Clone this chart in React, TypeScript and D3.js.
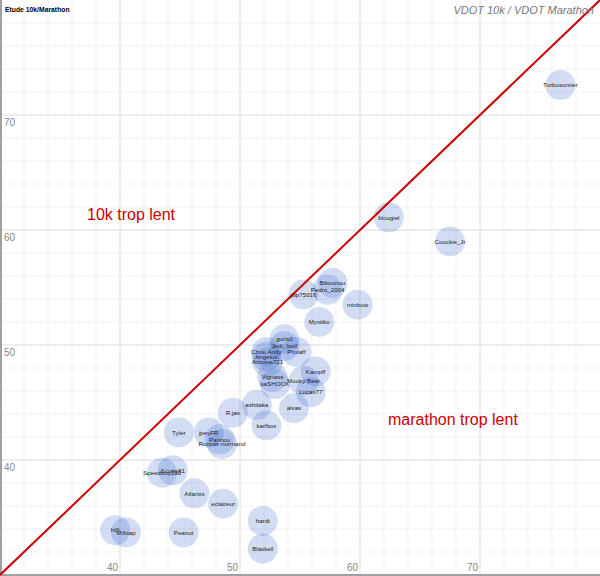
import React from 'react';
import * as d3 from 'd3';

const W = 600;
const H = 576;

// runners: VDOT 10k (x) vs VDOT marathon (y)
const names = [
  'Turbosunner', 'blougiel', 'Coockie_Jr', 'Bikounou', 'Pedro_2004', 'ptp75016',
  'minbow', 'Mystiko', 'gui/s0', 'Jedi_Isoil', 'Protaff', 'Chou Andy',
  'Angelus', 'Antoine721', 'Vignass', 'saSHOCK', 'Kampff', 'Mooky Bear',
  'Lucas77', 'ashitaka', 'alvas', 'R.jas', 'karlbox', 'Tyler',
  'jpeyFR', 'Pannou', 'Runner-normand', 'Speedboy230', 'Scotty81', 'Atlantis',
  'eclaireur', 'hardt', 'Blaskell', 'Peanut', 'hilli', 'Millsap',
];
const vdot10k = [
  76.7, 62.4, 67.5, 57.7, 57.3, 55.3,
  59.8, 56.6, 53.7, 53.7, 54.7, 52.2,
  52.2, 52.3, 52.7, 52.9, 56.3, 55.3,
  55.9, 51.4, 54.5, 49.4, 52.2, 44.9,
  47.4, 48.3, 48.5, 43.5, 44.4, 46.2,
  48.6, 51.9, 51.9, 45.3, 39.6, 40.5,
];
const vdotMarathon = [
  72.6, 61.1, 59.0, 55.4, 54.8, 54.4,
  53.5, 52.0, 50.5, 49.9, 49.4, 49.4,
  49.0, 48.5, 47.2, 46.6, 47.7, 46.9,
  45.9, 44.8, 44.5, 44.1, 43.0, 42.4,
  42.4, 41.8, 41.4, 38.9, 39.1, 37.1,
  36.2, 34.7, 32.3, 33.7, 33.9, 33.7,
];

const majorTicks = [40, 50, 60, 70];
const minorTicks = d3.range(32, 80, 2);

const App: React.FC = () => {
  const x = d3.scaleLinear().domain([30, 80]).range([0, W]);
  const y = d3.scaleLinear().domain([30, 80]).range([H - 1, 0]);

  const points = names.map((n, i) => ({ name: n, vx: vdot10k[i], vy: vdotMarathon[i] }));

  return (
    <svg
      width={W}
      height={H}
      style={{ position: 'absolute', left: 0, top: 0, background: '#fff' }}
      fontFamily="Arial, 'Liberation Sans', sans-serif"
    >
      {/* minor grid */}
      {minorTicks.map(t => (
        <g key={'m' + t}>
          <line x1={x(t)} x2={x(t)} y1={0} y2={H} stroke="#f1f1f1" />
          <line x1={0} x2={W} y1={y(t)} y2={y(t)} stroke="#f1f1f1" />
        </g>
      ))}
      {/* major grid */}
      {majorTicks.map(t => (
        <g key={'M' + t}>
          <line x1={x(t)} x2={x(t)} y1={0} y2={H} stroke="#e2e2e2" />
          <line x1={0} x2={W} y1={y(t)} y2={y(t)} stroke="#e2e2e2" />
        </g>
      ))}
      {/* axes */}
      <line x1={1} x2={1} y1={0} y2={H} stroke="#a0a0a0" strokeWidth={2} />
      <line x1={0} x2={W} y1={H - 1} y2={H - 1} stroke="#a0a0a0" strokeWidth={2} />

      {majorTicks.map(t => (
        <text key={'yl' + t} x={4} y={y(t) + 11} fontSize={10} fill="#888">
          {t}
        </text>
      ))}
      {majorTicks.map(t => (
        <text key={'xl' + t} x={x(t) - 2} y={H - 5} fontSize={10} fill="#888" textAnchor="end">
          {t}
        </text>
      ))}

      {/* bubbles */}
      {points.map(p => (
        <circle key={'c' + p.name} cx={x(p.vx)} cy={y(p.vy)} r={15} fill="#3366cc" fillOpacity={0.22} />
      ))}

      {/* diagonal y = x */}
      <line x1={x(30)} y1={y(30)} x2={x(80)} y2={y(80)} stroke="#cc0000" strokeWidth={2} />

      {points.map(p => (
        <text
          key={'t' + p.name}
          x={x(p.vx)}
          y={y(p.vy) + 2.2}
          fontSize={6.2}
          fill="#222"
          textAnchor="middle"
        >
          {p.name}
        </text>
      ))}

      <text x={87} y={220} fontSize={16} fill="#cc0000">10k trop lent</text>
      <text x={388} y={425} fontSize={16} fill="#cc0000">marathon trop lent</text>

      <text x={5} y={12} fontSize={6.8} fontWeight="bold" fill="#000">Etude 10k/Marathon</text>
      <text x={594} y={14} fontSize={11} fontStyle="italic" fill="#777" textAnchor="end">
        VDOT 10k / VDOT Marathon
      </text>
    </svg>
  );
};

export default App;
